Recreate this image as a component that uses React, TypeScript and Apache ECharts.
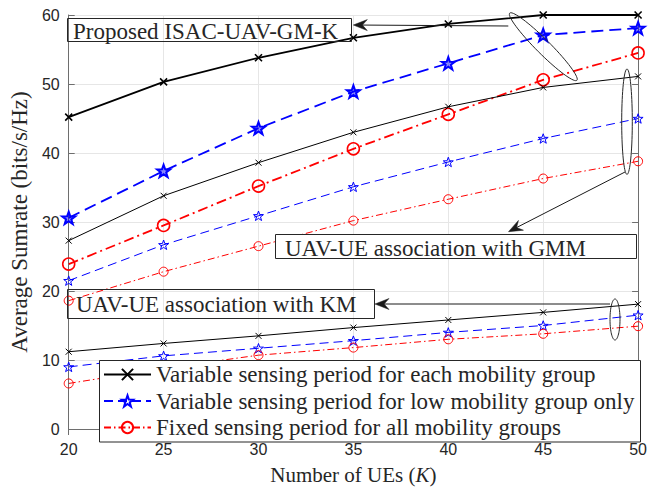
import React, { useEffect, useRef } from "react";
import * as echarts from "echarts";

const K = [20, 25, 30, 35, 40, 45, 50];
const propVar = [45.2, 50.3, 53.8, 56.7, 58.7, 60.0, 60.0];
const propLow = [30.6, 37.4, 43.6, 48.9, 53.0, 57.1, 58.1];
const propFixed = [23.9, 29.5, 35.2, 40.6, 45.6, 50.6, 54.5];
const gmmVar = [27.3, 33.8, 38.6, 43.0, 46.7, 49.5, 51.1];
const gmmLow = [21.5, 26.7, 30.9, 35.1, 38.7, 42.1, 45.0];
const gmmFixed = [18.6, 22.8, 26.5, 30.2, 33.3, 36.3, 38.8];
const kmVar = [11.2, 12.4, 13.5, 14.7, 15.8, 16.9, 18.1];
const kmLow = [9.0, 10.6, 11.7, 12.8, 14.0, 15.0, 16.5];
const kmFixed = [6.6, 8.8, 10.7, 11.8, 13.0, 13.8, 14.9];

const legendNames = [
  "Variable sensing period for each mobility group",
  "Variable sensing period for low mobility group only",
  "Fixed sensing period for all mobility groups",
];
const annoProposed = "Proposed ISAC-UAV-GM-K";
const annoGMM = "UAV-UE association with GMM";
const annoKM = "UAV-UE association with KM";
const xName = "Number of UEs ({i|K})";
const yName = "Average Sumrate (bits/s/Hz)";

const SERIF = "Liberation Serif";
const SANS = "Liberation Sans";
const TXT = "#262626";
const AX = "#6e6e6e";

function starPath(): string {
  const pts: string[] = [];
  for (let i = 0; i < 10; i++) {
    const r = i % 2 === 0 ? 10 : 4.0;
    const a = -Math.PI / 2 + (i * Math.PI) / 5;
    pts.push(`${(r * Math.cos(a)).toFixed(2)},${(r * Math.sin(a)).toFixed(2)}`);
  }
  return "path://M" + pts.join("L") + "Z";
}
const STAR = starPath();
const XMARK = "path://M0,0L10,10M10,0L0,10";

type Kind = "x" | "star" | "circle";

function mk(name: string, vals: number[], kind: Kind, thick: boolean) {
  const color = kind === "x" ? "#000000" : kind === "star" ? "#0000ff" : "#ff0000";
  const lw = thick ? 1.8 : 1;
  let dash: any = "solid";
  if (kind === "star") dash = thick ? [12, 6] : [9, 5];
  if (kind === "circle") dash = thick ? [10, 4, 2, 4] : [7, 3, 1.5, 3];
  let symbol = "circle";
  let size = thick ? 12 : 9;
  let fill = "rgba(0,0,0,0)";
  let bw = thick ? 1.6 : 1;
  if (kind === "x") {
    symbol = XMARK;
    size = thick ? 7 : 6;
  } else if (kind === "star") {
    symbol = STAR;
    size = thick ? 13 : 10;
    if (thick) {
      fill = "rgba(0,0,255,0.45)";
      bw = 2;
    }
  }
  return {
    type: "line",
    name,
    data: K.map((k, i) => [k, vals[i]]),
    symbol,
    symbolSize: size,
    symbolKeepAspect: true,
    showSymbol: true,
    clip: false,
    z: 2,
    lineStyle: { color, width: lw, type: dash },
    itemStyle: {
      color: fill,
      borderColor: color,
      borderWidth: bw,
    },
    emphasis: { disabled: true },
  };
}

function ellipsePts(cx: number, cy: number, a: number, b: number, angDeg: number) {
  const t = (angDeg * Math.PI) / 180;
  const pts: number[][] = [];
  for (let i = 0; i < 72; i++) {
    const u = (i / 72) * Math.PI * 2;
    const ex = a * Math.cos(u);
    const ey = b * Math.sin(u);
    pts.push([cx + ex * Math.cos(t) - ey * Math.sin(t), cy + ex * Math.sin(t) + ey * Math.cos(t)]);
  }
  return pts;
}

function arrow(x1: number, y1: number, x2: number, y2: number) {
  const dx = x2 - x1;
  const dy = y2 - y1;
  const len = Math.sqrt(dx * dx + dy * dy);
  const ux = dx / len;
  const uy = dy / len;
  const nx = -uy;
  const ny = ux;
  const L = 14;
  const W = 5.5;
  const head = [
    [x2, y2],
    [x2 - L * ux + W * nx, y2 - L * uy + W * ny],
    [x2 - 0.65 * L * ux, y2 - 0.65 * L * uy],
    [x2 - L * ux - W * nx, y2 - L * uy - W * ny],
  ];
  return [
    {
      type: "line",
      z: 6,
      shape: { x1, y1, x2: x2 - 0.6 * L * ux, y2: y2 - 0.6 * L * uy },
      style: { stroke: "#1a1a1a", lineWidth: 1 },
    },
    {
      type: "polygon",
      z: 6,
      shape: { points: head },
      style: { fill: "#1a1a1a", stroke: "#1a1a1a", lineWidth: 0.5 },
    },
  ];
}

function ellipse(cx: number, cy: number, a: number, b: number, ang: number) {
  return {
    type: "polygon",
    z: 6,
    shape: { points: ellipsePts(cx, cy, a, b, ang) },
    style: { fill: "none", stroke: "#262626", lineWidth: 1 },
  };
}

function textEl(t: string, x: number, y: number) {
  return {
    type: "text",
    z: 7,
    x,
    y,
    style: {
      text: t,
      fill: TXT,
      fontSize: 23,
      fontFamily: SERIF,
      align: "left",
      verticalAlign: "middle",
      textAlign: "left",
      textVerticalAlign: "middle",
    },
  };
}

export default function App() {
  const ref = useRef<HTMLDivElement>(null);
  useEffect(() => {
    if (!ref.current) return;
    const chart = echarts.init(ref.current, undefined, { renderer: "svg" });
    const series = [
      mk("P-var", propVar, "x", true),
      mk("P-low", propLow, "star", true),
      mk("P-fix", propFixed, "circle", true),
      mk(legendNames[0], gmmVar, "x", false),
      mk(legendNames[1], gmmLow, "star", false),
      mk(legendNames[2], gmmFixed, "circle", false),
      mk("K-var", kmVar, "x", false),
      mk("K-low", kmLow, "star", false),
      mk("K-fix", kmFixed, "circle", false),
    ];
    const option: any = {
      animation: false,
      backgroundColor: "#ffffff",
      textStyle: { fontFamily: SERIF },
      grid: { left: 65, right: 9, top: 15, bottom: 57, containLabel: false },
      xAxis: [
        {
          type: "value",
          min: 20,
          max: 50,
          interval: 5,
          position: "bottom",
          name: xName,
          nameLocation: "middle",
          nameGap: 35,
          nameTextStyle: {
            fontFamily: SERIF,
            fontSize: 21,
            color: TXT,
            rich: { i: { fontFamily: SERIF, fontSize: 21, fontStyle: "italic", color: TXT } },
          },
          axisLine: { show: true, lineStyle: { color: AX, width: 1 } },
          axisTick: { show: true, inside: true, length: 6, lineStyle: { color: AX } },
          axisLabel: { fontFamily: SANS, fontSize: 16, color: TXT, margin: 12 },
          splitLine: { show: true, lineStyle: { color: "#e6e6e6", width: 1 } },
        },
        {
          type: "value",
          min: 20,
          max: 50,
          interval: 5,
          position: "top",
          axisLine: { show: true, lineStyle: { color: AX, width: 1 } },
          axisTick: { show: true, inside: true, length: 6, lineStyle: { color: AX } },
          axisLabel: { show: false },
          splitLine: { show: false },
        },
      ],
      yAxis: [
        {
          type: "value",
          min: 0,
          max: 60,
          interval: 10,
          position: "left",
          name: yName,
          nameLocation: "middle",
          nameGap: 31,
          nameTextStyle: { fontFamily: SERIF, fontSize: 23, color: TXT },
          axisLine: { show: true, lineStyle: { color: AX, width: 1 } },
          axisTick: { show: true, inside: true, length: 6, lineStyle: { color: AX } },
          axisLabel: { fontFamily: SANS, fontSize: 16, color: TXT, margin: 9 },
          splitLine: { show: true, lineStyle: { color: "#e6e6e6", width: 1 } },
        },
        {
          type: "value",
          min: 0,
          max: 60,
          interval: 10,
          position: "right",
          axisLine: { show: true, lineStyle: { color: AX, width: 1 } },
          axisTick: { show: true, inside: true, length: 6, lineStyle: { color: AX } },
          axisLabel: { show: false },
          splitLine: { show: false },
        },
      ],
      legend: {
        data: legendNames,
        orient: "vertical",
        left: 99,
        top: 360,
        padding: [3, 10, 3, 4],
        itemWidth: 47,
        itemHeight: 14,
        itemGap: 3.5,
        selectedMode: false,
        z: 8,
        textStyle: { fontFamily: SERIF, fontSize: 23, color: TXT, lineHeight: 22 },
      },
      graphic: [
        {
          type: "rect",
          z: 4,
          shape: { x: 99.5, y: 360.5, width: 541, height: 81.5 },
          style: { fill: "#ffffff", stroke: "#262626", lineWidth: 1 },
        },
        {
          type: "rect",
          z: 5,
          shape: { x: 67.5, y: 18.5, width: 284, height: 23 },
          style: { fill: "none", stroke: "#262626", lineWidth: 1 },
        },
        textEl(annoProposed, 73, 31),
        {
          type: "rect",
          z: 4,
          shape: { x: 275.5, y: 234.5, width: 361, height: 24 },
          style: { fill: "#ffffff", stroke: "#262626", lineWidth: 1 },
        },
        textEl(annoGMM, 285, 248.5),
        {
          type: "rect",
          z: 5,
          shape: { x: 67.5, y: 289.5, width: 307, height: 29 },
          style: { fill: "none", stroke: "#262626", lineWidth: 1 },
        },
        textEl(annoKM, 76, 304),
        ellipse(543.3, 46.7, 47.5, 7, 45),
        ellipse(627, 121.7, 5.3, 52.7, 0),
        ellipse(615, 319.5, 5, 20.5, 0),
        ...arrow(508.3, 26, 353.3, 25),
        ...arrow(625, 172, 508.5, 231.7),
        ...arrow(610, 304, 375, 304),
      ],
      series,
    };
    chart.setOption(option);
    return () => chart.dispose();
  }, []);
  return (
    <div
      ref={ref}
      style={{ position: "absolute", left: 0, top: 0, width: 650, height: 490 }}
    />
  );
}
